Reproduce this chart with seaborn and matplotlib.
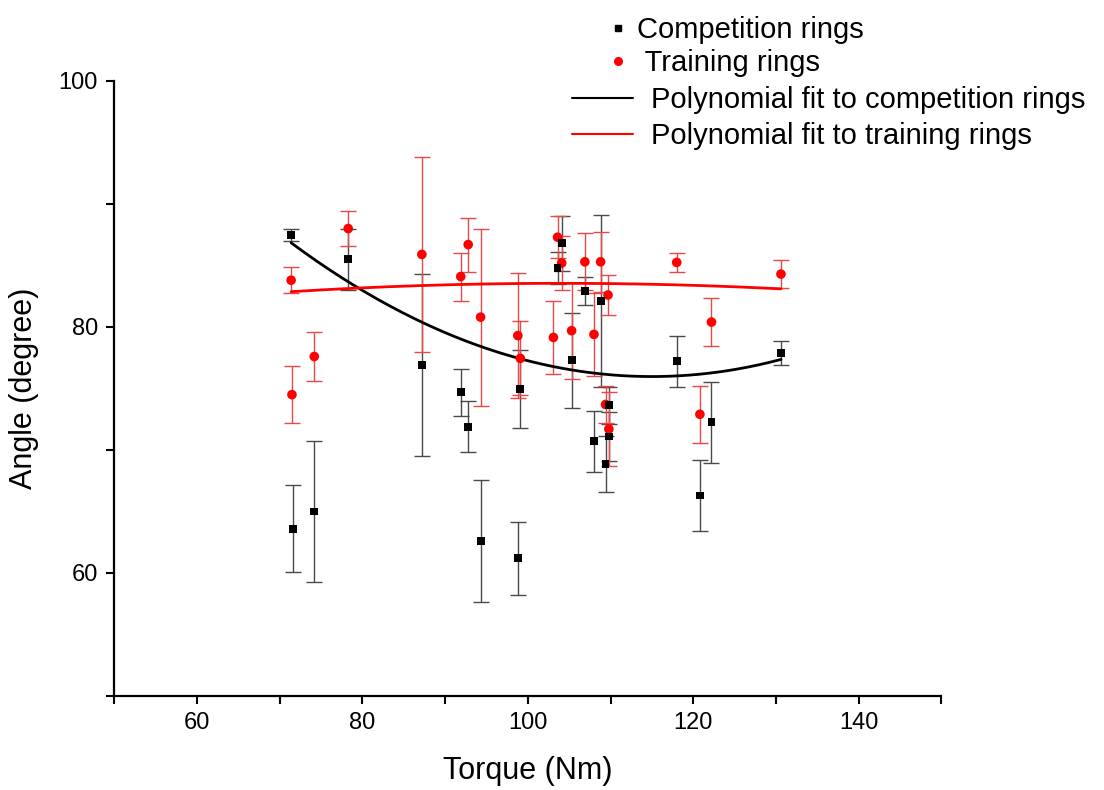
import numpy as np
import pandas as pd
import matplotlib
matplotlib.use("Agg")
import matplotlib.pyplot as plt
from matplotlib.ticker import FixedLocator
from matplotlib.lines import Line2D
import seaborn as sns

# competition rings (black squares)
comp_torque = [71.4, 71.6, 74.2, 78.3, 87.2, 91.9, 92.8, 94.3, 98.8, 99.1, 103.6, 104.1,
               105.3, 106.9, 108.0, 108.8, 109.4, 109.8, 109.8, 118.0, 120.8, 122.2, 130.6]
comp_angle = [87.5, 63.6, 65.0, 85.5, 76.9, 74.7, 71.9, 62.6, 61.2, 74.95, 84.8, 86.8,
              77.3, 82.9, 70.7, 82.1, 68.85, 73.65, 71.1, 77.2, 66.3, 72.25, 77.9]
comp_err = [0.5, 3.55, 5.7, 2.5, 7.4, 1.9, 2.1, 4.95, 2.95, 3.2, 1.3, 2.25,
            3.85, 1.15, 2.5, 7.0, 2.25, 1.5, 2.0, 2.1, 2.9, 3.3, 1.0]

# training rings (red circles)
train_torque = [71.4, 71.5, 74.2, 78.3, 87.2, 91.9, 92.8, 94.3, 98.8, 99.1, 103.1, 103.6,
                104.1, 105.3, 106.9, 108.0, 108.8, 109.4, 109.7, 109.8, 118.0, 120.8, 122.2, 130.6]
train_angle = [83.8, 74.5, 77.6, 88.0, 85.9, 84.1, 86.7, 80.8, 79.3, 77.45, 79.15, 87.3,
               85.2, 79.7, 85.3, 79.4, 85.3, 73.7, 82.6, 71.7, 85.25, 72.9, 80.4, 84.3]
train_err = [1.05, 2.3, 2.0, 1.4, 7.9, 1.95, 2.2, 7.2, 5.1, 3.0, 2.95, 1.7,
             2.2, 3.9, 2.3, 3.4, 2.45, 1.5, 1.6, 3.0, 0.75, 2.3, 1.95, 1.15]

# quadratic fits: y = a*(x-h)^2 + k
comp_fit = [0.00572, 115.0, 75.97]
train_fit = [-0.00064, 104.0, 83.55]

comp = pd.DataFrame({"torque": comp_torque, "angle": comp_angle, "err": comp_err})
train = pd.DataFrame({"torque": train_torque, "angle": train_angle, "err": train_err})

def fit_curve(p, xs):
    a, h, k = p
    xg = np.linspace(min(xs), max(xs), 200)
    return pd.DataFrame({"torque": xg, "angle": a * (xg - h) ** 2 + k})

sns.set_theme(style="ticks")
plt.rcParams['font.family'] = ['Liberation Sans', 'DejaVu Sans']
plt.rcParams['text.color'] = 'black'
plt.rcParams['axes.labelcolor'] = 'black'

fig = plt.figure(figsize=(11.04, 7.9), dpi=100)
ax = fig.add_axes([0.1033, 0.119, 0.7495, 0.7785])

ax.errorbar(comp.torque, comp.angle, yerr=comp.err, fmt="none", ecolor="#4a4a4a",
            elinewidth=1.0, capsize=5.5, capthick=1.0, zorder=2)
ax.errorbar(train.torque, train.angle, yerr=train.err, fmt="none", ecolor="#e84848",
            elinewidth=1.0, capsize=5.5, capthick=1.0, zorder=2)

sns.lineplot(data=fit_curve(comp_fit, comp_torque), x="torque", y="angle", color="black",
             lw=2.0, ax=ax, zorder=3)
sns.lineplot(data=fit_curve(train_fit, train_torque), x="torque", y="angle", color="#ff0000",
             lw=2.0, ax=ax, zorder=3)

sns.scatterplot(data=train, x="torque", y="angle", marker="o", color="#ff0000", s=48,
                edgecolor="none", ax=ax, zorder=4)
sns.scatterplot(data=comp, x="torque", y="angle", marker="s", color="black", s=32,
                edgecolor="none", ax=ax, zorder=5)

ax.set_xlim(50, 150)
ax.set_ylim(50, 100)
ax.xaxis.set_major_locator(FixedLocator([60, 80, 100, 120, 140]))
ax.xaxis.set_minor_locator(FixedLocator([50, 70, 90, 110, 130, 150]))
ax.yaxis.set_major_locator(FixedLocator([60, 80, 100]))
ax.yaxis.set_minor_locator(FixedLocator([50, 70, 90]))
ax.tick_params(which="both", direction="out", length=5.5, width=1.5, color="black")
ax.tick_params(which="major", labelsize=17, pad=6, labelcolor="black")

for side in ["top", "right"]:
    ax.spines[side].set_visible(False)
for side in ["left", "bottom"]:
    ax.spines[side].set_linewidth(1.6)
    ax.spines[side].set_color("black")

ax.set_xlabel("Torque (Nm)", fontsize=22, labelpad=16)
ax.set_ylabel("Angle (degree)", fontsize=22, labelpad=14)

marker_handles = [
    Line2D([], [], ls="none", marker="s", color="black", markersize=5),
    Line2D([], [], ls="none", marker="o", color="#ff0000", markersize=5.5),
]
marker_labels = ["Competition rings", " Training rings"]
line_handles = [
    Line2D([], [], color="black", lw=1.5),
    Line2D([], [], color="#ff0000", lw=1.5),
]
line_labels = ["Polynomial fit to competition rings", "Polynomial fit to training rings"]

leg1 = fig.legend(marker_handles, marker_labels, loc="upper left",
                  bbox_to_anchor=(603 / 1104, 1 - 16 / 790), frameon=False, fontsize=21,
                  borderpad=0, borderaxespad=0, handlelength=1.0, handletextpad=0.15,
                  labelspacing=0.18)
leg2 = fig.legend(line_handles, line_labels, loc="upper left",
                  bbox_to_anchor=(572 / 1104, 1 - 86 / 790), frameon=False, fontsize=21,
                  borderpad=0, borderaxespad=0, handlelength=2.1, handletextpad=0.6,
                  labelspacing=0.28)

fig.savefig("out.png", dpi=100)
